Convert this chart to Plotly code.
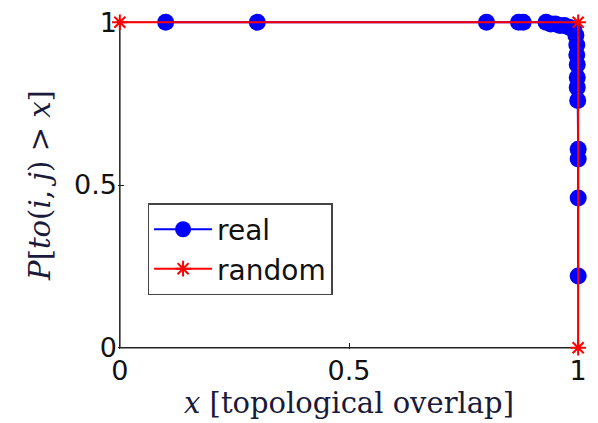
import plotly.graph_objects as go

# Data
real_x = [0.10, 0.30, 0.80, 0.87, 0.88, 0.93, 0.94, 0.95, 0.96, 0.97, 0.98, 0.99,
          0.995, 0.997, 0.997, 0.998, 0.998, 0.998, 0.999, 1.0, 1.0, 1.0, 1.0]
real_y = [1.0, 1.0, 1.0, 1.0, 1.0, 1.0, 0.995, 0.995, 0.99, 0.99, 0.985, 0.98,
          0.96, 0.93, 0.90, 0.87, 0.83, 0.80, 0.76, 0.61, 0.58, 0.46, 0.22]
random_x = [0.0, 1.0, 1.0]
random_y = [1.0, 1.0, 0.0]
tick_vals = [0, 0.5, 1]
tick_text = ["0", "0.5", "1"]

fig = go.Figure()
fig.add_trace(go.Scatter(
    x=real_x, y=real_y, mode="lines+markers", name="real",
    line=dict(color="#0000ff", width=2),
    marker=dict(color="#0000ff", size=17, symbol="circle"),
    cliponaxis=False,
))
fig.add_trace(go.Scatter(
    x=random_x, y=random_y, mode="lines+markers", name="random",
    line=dict(color="#ff0000", width=2),
    marker=dict(color="#ff0000", size=13, symbol="asterisk-open",
                line=dict(color="#ff0000", width=2)),
    cliponaxis=False,
))

axis_common = dict(
    range=[-0.004, 1.004], tickvals=tick_vals, ticktext=tick_text,
    showgrid=False, zeroline=False, showline=False,
    ticks="inside", ticklen=6,
    tickcolor="#222222", automargin=False, ticklabeloverflow="allow",
    layer="below traces",
    tickfont=dict(family="DejaVu Sans", size=27, color="#111111"),
)

fig.update_layout(
    width=598, height=423,
    margin=dict(l=118, r=18, t=21, b=74, autoexpand=False),
    paper_bgcolor="white", plot_bgcolor="white",
    xaxis=dict(axis_common, ticklabelstandoff=3,
               title=dict(text="<i>x</i> [topological overlap]",
                          font=dict(family="DejaVu Serif", size=29, color="#1a1a3a"),
                          standoff=2)),
    yaxis=dict(axis_common,
               title=dict(text="<i>P</i>[<i>to</i>(<i>i</i>, <i>j</i>) > <i>x</i>]",
                          font=dict(family="DejaVu Serif", size=29, color="#1a1a3a"),
                          standoff=14)),
    legend=dict(x=0.064, y=0.445, xanchor="left", yanchor="top",
                bgcolor="white", bordercolor="#444444", borderwidth=1.5,
                font=dict(family="DejaVu Sans", size=28, color="#111111"),
                itemwidth=58, tracegroupgap=0),
    showlegend=True,
    shapes=[dict(type="rect", xref="x", yref="y", x0=0, x1=1, y0=0, y1=1,
                 line=dict(color="#222222", width=1.5), layer="below")],
)

fig.write_html("out.html", config={"displayModeBar": False},
               post_script="document.body.style.margin='0';document.body.style.overflow='hidden';")
